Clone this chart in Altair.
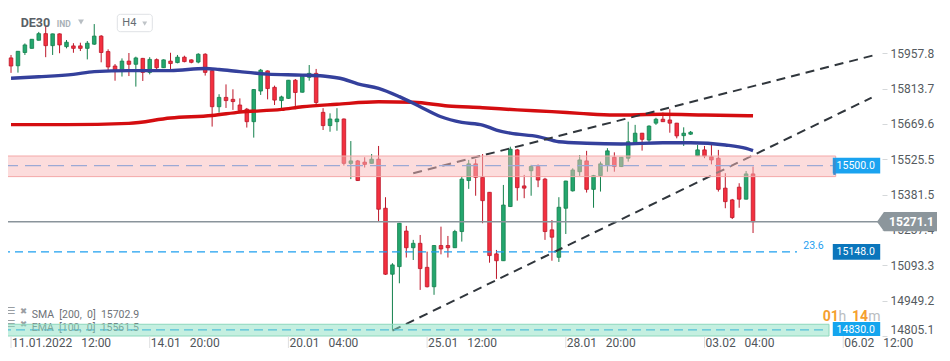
import altair as alt
import pandas as pd

# ---------------- data ----------------
opens = [15939, 15907, 15961, 15978, 16011, 16038, 15989, 16037, 15985, 15988,
         15988, 15978, 15995, 16028, 15965, 15906, 15887, 15926, 15913, 15937,
         15880, 15932, 15899, 15926, 15920, 15942, 15931, 15922, 15954, 15887,
         15740, 15778, 15770, 15747, 15730, 15679, 15804, 15886, 15819, 15765,
         15774, 15848, 15799, 15860, 15876, 15717, 15663, 15679, 15690, 15509,
         15519, 15514, 15509, 15526, 15326, 15057, 15088, 15233, 15165, 15183,
         15085, 15006, 15174, 15174, 15165, 15231, 15439, 15507, 15452, 15391,
         15140, 15112, 15333, 15564, 15417, 15479, 15496, 15445, 15238, 15126,
         15326, 15397, 15475, 15519, 15403, 15459, 15500, 15534, 15496, 15530,
         15593, 15632, 15604, 15673, 15689, 15686, 15673, 15622, 15628, 15540,
         15564, 15536, 15530, 15408, 15360, 15412, 15363, 15466]
highs = [15951, 15967, 15998, 16016, 16045, 16069, 16038, 16039, 16012, 15999,
         16001, 16008, 16077, 16032, 15974, 15914, 15937, 15959, 15944, 15939,
         15942, 15937, 15933, 15960, 15951, 15948, 15933, 15958, 15958, 15890,
         15791, 15831, 15811, 15774, 15735, 15812, 15894, 15888, 15826, 15785,
         15849, 15853, 15869, 15910, 15894, 15734, 15713, 15734, 15692, 15600,
         15523, 15534, 15547, 15580, 15371, 15102, 15266, 15254, 15197, 15217,
         15149, 15176, 15251, 15213, 15238, 15455, 15523, 15526, 15547, 15392,
         15156, 15421, 15577, 15568, 15462, 15503, 15505, 15450, 15278, 15371,
         15438, 15489, 15543, 15560, 15462, 15516, 15571, 15554, 15535, 15679,
         15666, 15633, 15664, 15695, 15716, 15730, 15674, 15656, 15641, 15584,
         15580, 15595, 15564, 15469, 15364, 15428, 15478, 15496]
lows = [15878, 15879, 15951, 15977, 16010, 15942, 15951, 15958, 15978, 15960,
        15967, 15933, 15992, 15921, 15883, 15846, 15863, 15865, 15822, 15845,
        15872, 15893, 15898, 15883, 15917, 15921, 15917, 15917, 15867, 15659,
        15716, 15735, 15727, 15717, 15655, 15614, 15788, 15770, 15747, 15725,
        15772, 15730, 15798, 15846, 15749, 15645, 15638, 15642, 15500, 15445,
        15437, 15492, 15508, 15271, 15054, 14830, 15020, 15125, 15115, 14993,
        15003, 14973, 15138, 15125, 15164, 15190, 15405, 15377, 15265, 15104,
        15038, 15111, 15331, 15357, 15367, 15377, 15412, 15197, 15112, 15107,
        15221, 15394, 15458, 15390, 15328, 15394, 15475, 15475, 15494, 15516,
        15592, 15561, 15593, 15666, 15678, 15634, 15611, 15580, 15625, 15539,
        15530, 15505, 15394, 15326, 15282, 15328, 15362, 15225]
closes = [15906, 15966, 15992, 16015, 16038, 15989, 16037, 15992, 16003, 15978,
          15978, 15999, 16028, 15961, 15902, 15887, 15926, 15913, 15939, 15880,
          15933, 15899, 15931, 15916, 15942, 15924, 15921, 15954, 15880, 15740,
          15778, 15765, 15761, 15724, 15679, 15810, 15889, 15814, 15767, 15780,
          15848, 15798, 15867, 15876, 15757, 15663, 15690, 15690, 15509, 15519,
          15439, 15505, 15526, 15322, 15057, 15095, 15265, 15165, 15183, 15080,
          15006, 15174, 15160, 15165, 15231, 15445, 15507, 15452, 15357, 15133,
          15112, 15339, 15567, 15410, 15408, 15496, 15441, 15231, 15208, 15330,
          15437, 15482, 15523, 15403, 15459, 15507, 15560, 15496, 15534, 15597,
          15632, 15607, 15661, 15689, 15679, 15673, 15621, 15632, 15636, 15564,
          15539, 15523, 15403, 15353, 15288, 15363, 15466, 15271.1]

sma_idx = [0, 8, 17, 23, 29, 33, 39, 42, 47, 53, 58, 63, 68, 73, 78, 82, 87, 94, 100, 107]
sma_val = [15667, 15667, 15672, 15694, 15704, 15718, 15729, 15740, 15750, 15760,
           15758, 15743, 15736, 15727, 15720, 15713, 15706, 15709, 15706, 15703]

ema_idx = [0, 4, 9, 12, 17, 23, 28, 30, 33, 37, 42, 45, 48, 50, 53, 56, 59, 62, 65,
           68, 70, 72, 76, 79, 83, 88, 94, 98, 103, 106, 107]
ema_val = [15856, 15862, 15872, 15883, 15887, 15887, 15896, 15892, 15883, 15873,
           15869, 15865, 15852, 15833, 15815, 15781, 15740, 15699, 15676, 15665,
           15645, 15632, 15618, 15597, 15591, 15588, 15593, 15593, 15584, 15570, 15561]

trend_line = ["upper", "upper", "lower", "lower"]
trend_idx = [58, 124.6, 55, 124.1]
trend_val = [15469, 15951, 14827, 15777]

y_ticks = [15957.8, 15813.7, 15669.6, 15525.5, 15381.5, 15237.4, 15093.3, 14949.2, 14805.1]
x_label_idx = [0, 20, 40, 60, 80, 100, 120]
NB = "\u00a0\u00a0\u00a0"
x_label_txt = ["11.01.2022" + NB + "12:00", "14.01" + NB + "20:00", "20.01" + NB + "04:00",
               "25.01" + NB + "12:00", "28.01" + NB + "20:00", "03.02" + NB + "04:00",
               "06.02" + NB + "12:00"]

zone_pink = [15455, 15539]
zone_green = [14805.1, 14853]
level_mid = 15500.0
level_fib = 15148.0
level_low = 14830.0
last_price = 15271.1

# ---------------- chart ----------------
W, H = 874, 328
XD = [0.285, 124.875]
YD = [14805.1, 16142.5]
FONT = "Roboto"

YAXIS = alt.Axis(orient="right", values=y_ticks, format=".1f", domain=False, grid=False,
                 ticks=True, tickSize=5, tickColor="#d5d8da", labelPadding=3,
                 labelFont=FONT, labelFontSize=12, labelColor="#555b60",
                 labelFlush=True, title=None)


def X(f="idx"):
    return alt.X(f"{f}:Q", scale=alt.Scale(domain=XD, nice=False, zero=False), axis=None)


def Y(f):
    return alt.Y(f"{f}:Q", scale=alt.Scale(domain=YD, nice=False, zero=False), axis=YAXIS)


cdf = pd.DataFrame({"idx": list(range(len(opens))), "open": opens, "high": highs,
                    "low": lows, "close": closes})
cdf["dir"] = ["up" if c >= o else "down" for o, c in zip(opens, closes)]

stroke_scale = alt.Scale(domain=["up", "down"], range=["#13804c", "#bd1729"])
fill_scale = alt.Scale(domain=["up", "down"], range=["#24a66e", "#f3303f"])

wicks = alt.Chart(cdf).mark_rule(strokeWidth=1).encode(
    x=X(), y=Y("low"), y2="high:Q",
    stroke=alt.Stroke("dir:N", scale=stroke_scale, legend=None))
bodies = alt.Chart(cdf).mark_bar(size=3.6, strokeWidth=0.8).encode(
    x=X(), y=Y("open"), y2="close:Q",
    fill=alt.Fill("dir:N", scale=fill_scale, legend=None),
    stroke=alt.Stroke("dir:N", scale=stroke_scale, legend=None))

sma = alt.Chart(pd.DataFrame({"idx": sma_idx, "v": sma_val})).mark_line(
    color="#d40d10", strokeWidth=3.4, interpolate="monotone").encode(x=X(), y=Y("v"))
ema = alt.Chart(pd.DataFrame({"idx": ema_idx, "v": ema_val})).mark_line(
    color="#34409c", strokeWidth=3.4, interpolate="monotone").encode(x=X(), y=Y("v"))

trend = alt.Chart(pd.DataFrame({"idx": trend_idx, "v": trend_val, "l": trend_line})).mark_line(
    color="#30363c", strokeWidth=2, strokeDash=[9, 6]).encode(x=X(), y=Y("v"), detail="l:N")


def hrule(price, x2, color, dash, width=1.3):
    kw = dict(color=color, strokeWidth=width)
    if dash:
        kw["strokeDash"] = dash
    return alt.Chart(pd.DataFrame({"p": [price]})).mark_rule(**kw).encode(
        x=alt.value(-6), x2=alt.value(x2), y=Y("p"))


r_mid = hrule(level_mid, 826, "#3c98f0", [16, 7], 1.3)
r_fib = hrule(level_fib, 789, "#1ea0f0", [8, 5], 1.4)
r_low = hrule(level_low, 820, "#1ea0f0", [9, 5], 1.3)
r_last = hrule(last_price, 870, "#8a949b", None, 1.5)


def txt(s, x, y, size=11, color="#555", weight="normal", align="left", font=FONT):
    return alt.Chart(pd.DataFrame({"t": [s]})).mark_text(
        align=align, baseline="middle", fontSize=size, color=color,
        fontWeight=weight, font=font).encode(x=alt.value(x), y=alt.value(y), text="t:N")


legend = [
    txt("\u2630", -1.5, 303, 10, "#9a9ea2", font="DejaVu Sans"),
    txt("\u2716", 12, 303, 8.5, "#9a9ea2", font="DejaVu Sans"),
    txt("SMA\u00a0 [200,\u00a0 0]\u00a0 15702.9", 23.7, 306.7, 10.5, "#6d7277"),
    txt("\u2630", -1.5, 316, 10, "#9a9ea2", font="DejaVu Sans"),
    txt("\u2716", 12, 316, 8.5, "#9a9ea2", font="DejaVu Sans"),
    txt("EMA\u00a0 [100,\u00a0 0]\u00a0 15561.5", 23.7, 320.3, 10.5, "#6d7277"),
]

pink = alt.Chart(pd.DataFrame({"lo": [zone_pink[0]], "hi": [zone_pink[1]]})).mark_rect(
    fill="#f9b9b9", fillOpacity=0.5, stroke="#f4a8a8", strokeWidth=1).encode(
    x=alt.value(-6), x2=alt.value(827.7), y=Y("hi"), y2="lo:Q")
green = alt.Chart(pd.DataFrame({"lo": [zone_green[0]], "hi": [zone_green[1]]})).mark_rect(
    fill="#89dfc1", fillOpacity=0.5, stroke="#8dd8bd", strokeWidth=1).encode(
    x=alt.value(-6), x2=alt.value(821), y=Y("hi"), y2="lo:Q")

TAG = "M-1,-0.33H1V0.33H-1Z"


def tag(price, color, clip=False):
    return alt.Chart(pd.DataFrame({"p": [price]})).mark_point(
        shape=TAG, filled=True, size=2250, opacity=1, color=color, strokeWidth=0,
        clip=clip).encode(x=alt.value(848.5), y=Y("p"))


def tagtext(price, s, size=10.5, weight="normal", x=847.7):
    return alt.Chart(pd.DataFrame({"p": [price], "t": [s]})).mark_text(
        align="center", baseline="middle", fontSize=size, color="white",
        fontWeight=weight, font=FONT).encode(x=alt.value(x), y=Y("p"), text="t:N")


tags = [
    tag(level_mid, "#1aa3f0"),
    alt.Chart(pd.DataFrame({"a": [15526], "b": [15462]})).mark_rule(
        color="#3f8ccc", strokeWidth=2.4).encode(x=alt.value(826.5), y=Y("a"), y2="b:Q"),
    tagtext(level_mid, "15500.0"),
    tag(level_fib, "#0b76bc"),
    tagtext(level_fib, "15148.0"),
    tag(level_low, "#14a5ee", clip=True),
    tagtext(level_low, "14830.0"),
    alt.Chart(pd.DataFrame({"p": [last_price]})).mark_point(
        shape="M-1,0L-0.77,-0.32H1V0.32H-0.77Z", filled=True, size=3600, opacity=1,
        color="#8c969c", strokeWidth=0).encode(x=alt.value(899), y=Y("p")),
    tagtext(last_price, "15271.1", 12, "bold", 903.5),
]

header = [
    txt("DE30", 12.7, 15, 12.5, "#596066", "bold"),
    txt("IND", 48.7, 16.3, 8.5, "#a9b1b8", "bold"),
    alt.Chart(pd.DataFrame({"a": [0]})).mark_point(
        shape="triangle-down", filled=True, size=34, opacity=1, color="#b8bec3").encode(
        x=alt.value(73), y=alt.value(14)),
    alt.Chart(pd.DataFrame({"a": [0]})).mark_rect(
        cornerRadius=3, fill="white", stroke="#dfe2e5", strokeWidth=1).encode(
        x=alt.value(109.3), x2=alt.value(144.3), y=alt.value(6.3), y2=alt.value(23.7)),
    txt("H4", 114.3, 15.3, 11, "#666c72"),
    alt.Chart(pd.DataFrame({"a": [0]})).mark_point(
        shape="triangle-down", filled=True, size=24, opacity=1, color="#bfc4c8").encode(
        x=alt.value(136.7), y=alt.value(15.6)),
    txt("23.6", 795.3, 237.5, 10.5, "#1ea0f0"),
    txt("01", 814.7, 308.5, 14, "#f5a02f", "bold"),
    txt("h", 830.5, 308.5, 14, "#b9bdc1"),
    txt("14", 844, 308.5, 14, "#f5a02f", "bold"),
    txt("m", 860.3, 308.5, 14, "#b9bdc1"),
]

xl = pd.DataFrame({"idx": x_label_idx, "t": x_label_txt})
xlabels = alt.Chart(xl).mark_text(align="left", baseline="middle", dx=1, fontSize=12,
                                  color="#50565b", font=FONT).encode(
    x=X(), y=alt.value(334.5), text="t:N")
xsep = alt.Chart(xl).mark_rule(color="#dedfe0", strokeWidth=1).encode(
    x=X(), y=alt.value(328), y2=alt.value(341))

layers = ([wicks, bodies, sma, ema, trend, r_mid, r_fib, r_low, r_last] + legend
          + [pink, green] + tags + header + [xsep, xlabels])

chart = alt.layer(*layers).properties(
    width=W, height=H,
    autosize=alt.AutoSizeParams(type="none"),
    padding={"left": 0, "top": 0, "right": 58, "bottom": 12},
    background="white",
).configure_view(strokeWidth=0)

chart.save("out.html", embed_options={"renderer": "svg", "actions": False})
